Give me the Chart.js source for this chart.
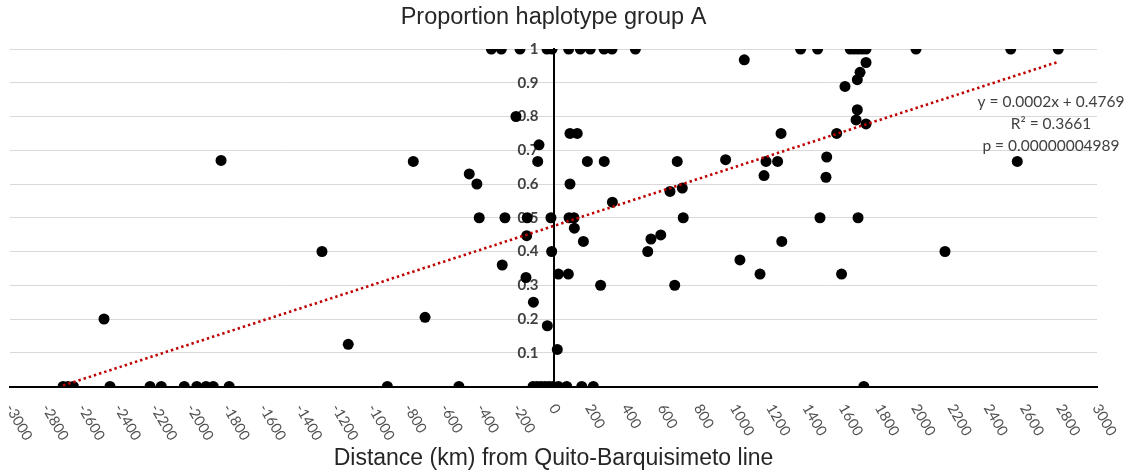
<!DOCTYPE html>
<html><head><meta charset="utf-8">
<script src="https://cdn.jsdelivr.net/npm/chart.js@4.4.0/dist/chart.umd.min.js"></script>
<style>html,body{margin:0;padding:0;background:#fff;}#wrap{width:1131px;height:472px;position:relative;}</style>
</head><body><div id="wrap"><canvas id="c" width="1131" height="472"></canvas></div>
<script>
// ---- text ----
const chartTitle = 'Proportion haplotype group A';
const xAxisTitle = 'Distance (km) from Quito-Barquisimeto line';
const equationLines = ['y = 0.0002x + 0.4769', 'R\u00B2 = 0.3661', 'p = 0.00000004989'];

// ---- axis ranges / ticks ----
const xRange = [-3000, 3000];
const xStep = 200;
const yRange = [0, 1];
const yStep = 0.1;

// ---- data: distance (km) and proportion of haplotype group A ----
const distanceKm = [
  // proportion 0
  -2707, -2680, -2650, -2448, -2227, -2165, -2038, -1969, -1918, -1878, -1790, -917, -522,
  -113, -91, -69, -47, -25, -3, 27, 73, 156, 220, 1713,
  // proportion 1
  -343, -288, -185, -36, -8, 84, 148, 203, 279, 323, 452, 1364, 1458, 1638, 1660, 1682, 1704, 1725, 2001, 2524, 2786,
  // intermediate, west side / near the line
  -2481, -1835, -1278, -1133, -774, -709, -465, -423, -410, -268, -145, -14, 86, 113,
  -283, -207, -80, -87, 91, 131, 187, 280, 91, 325, 115, 165, -148, -10, -152, 27, 82, 260, -111, -34, 21,
  // intermediate, east side
  1053, 1725, 1692, 1677, 1609, 1677, 1670, 1725, 1563, 1256, 1508, 1173, 1237, 1162, 1504, 1471, 1681,
  1260, 2161, 1140, 1590, 2560, 683, 950, 643, 711, 716, 538, 592, 520, 1029, 669
];
const proportionA = [
  0, 0, 0, 0, 0, 0, 0, 0, 0, 0, 0, 0, 0,
  0, 0, 0, 0, 0, 0, 0, 0, 0, 0, 0,
  1, 1, 1, 1, 1, 1, 1, 1, 1, 1, 1, 1, 1, 1, 1, 1, 1, 1, 1, 1, 1,
  0.2, 0.67, 0.4, 0.125, 0.667, 0.205, 0.63, 0.6, 0.5, 0.5, 0.5, 0.5, 0.5, 0.5,
  0.36, 0.8, 0.716, 0.667, 0.75, 0.75, 0.667, 0.667, 0.6, 0.546, 0.469, 0.43, 0.447, 0.4, 0.323, 0.333, 0.333, 0.3, 0.25, 0.18, 0.11,
  0.968, 0.96, 0.931, 0.909, 0.889, 0.82, 0.79, 0.778, 0.75, 0.75, 0.68, 0.667, 0.667, 0.625, 0.62, 0.5, 0.5,
  0.43, 0.4, 0.333, 0.333, 0.667, 0.667, 0.672, 0.578, 0.588, 0.5, 0.437, 0.449, 0.4, 0.375, 0.3
];

// ---- linear trendline endpoints (as drawn) ----
const trendX = [-2707, 2786];
const trendY = [0.003, 0.962];

const fmtY = v => (Math.abs(v) < 1e-9 ? '' : String(Math.round(v * 10) / 10));

// ---- plugin: Excel-style text ----
const textPlugin = {
  id: 'excelText',
  beforeDatasetsDraw(chart) {
    // y tick labels next to the vertical axis (x = 0), below the markers
    const ctx = chart.ctx, xs = chart.scales.x, ys = chart.scales.y;
    const ax = xs.getPixelForValue(0);
    ctx.save();
    ctx.fillStyle = '#404040';
    ctx.font = 'bold 15px Lato, "Open Sans", sans-serif';
    ctx.textAlign = 'right';
    ctx.textBaseline = 'middle';
    ys.ticks.forEach(t => {
      const s = fmtY(t.value);
      if (s) ctx.fillText(s, ax - 15, ys.getPixelForValue(t.value));
    });
    ctx.restore();
  },
  afterDraw(chart) {
    const ctx = chart.ctx, ca = chart.chartArea, xs = chart.scales.x;
    ctx.save();
    // chart title
    ctx.fillStyle = '#262626';
    ctx.font = '23.5px "Liberation Sans", Arial, sans-serif';
    ctx.textAlign = 'center';
    ctx.textBaseline = 'middle';
    ctx.fillText(chartTitle, (ca.left + ca.right) / 2, 18);
    // rotated x tick labels
    ctx.fillStyle = '#505050';
    ctx.font = '14.5px Lato, "Open Sans", sans-serif';
    ctx.textAlign = 'left';
    ctx.textBaseline = 'middle';
    xs.ticks.forEach(t => {
      const px = xs.getPixelForValue(t.value);
      ctx.save();
      ctx.translate(px - 1, xs.top + 19);
      ctx.rotate(60 * Math.PI / 180);
      ctx.fillText(String(t.value), 0, 0);
      ctx.restore();
    });
    // regression equation
    ctx.fillStyle = '#404040';
    ctx.font = '15.5px Lato, "Open Sans", sans-serif';
    ctx.textAlign = 'center';
    equationLines.forEach((s, i) => ctx.fillText(s, 1051, 102 + i * 22));
    ctx.restore();
  }
};

const ctx = document.getElementById('c').getContext('2d');
new Chart(ctx, {
  type: 'scatter',
  data: {
    datasets: [
      {
        type: 'line',
        label: 'Linear trend',
        data: trendX.map((x, i) => ({ x, y: trendY[i] })),
        borderColor: '#c00000',
        borderWidth: 2.6,
        borderDash: [2.4, 3],
        pointRadius: 0,
        fill: false,
        order: 0
      },
      {
        label: 'Proportion haplotype group A',
        data: distanceKm.map((x, i) => ({ x, y: proportionA[i] })),
        backgroundColor: '#000',
        borderColor: '#000',
        borderWidth: 0,
        pointRadius: 5.5,
        order: 1
      }
    ]
  },
  options: {
    responsive: false,
    animation: false,
    devicePixelRatio: 1,
    layout: { padding: { top: 49, left: 10, right: 34, bottom: 0 } },
    plugins: { legend: { display: false }, tooltip: { enabled: false }, title: { display: false } },
    scales: {
      x: {
        type: 'linear',
        min: xRange[0], max: xRange[1],
        position: 'bottom',
        grid: { display: false },
        border: { display: true, color: '#000', width: 2 },
        ticks: { display: false, stepSize: xStep },
        title: {
          display: true, text: xAxisTitle, color: '#262626',
          font: { family: '"Liberation Sans", Arial, sans-serif', size: 23 },
          padding: { top: 0, bottom: 0 }
        },
        afterFit(s) { s.height = 85.5; }
      },
      y: {
        type: 'linear',
        min: yRange[0], max: yRange[1],
        position: { x: 0 },
        grid: { color: '#d9d9d9', lineWidth: 1, drawTicks: false },
        border: { color: '#000', width: 2 },
        ticks: { stepSize: yStep, display: false }
      }
    }
  },
  plugins: [textPlugin]
});
</script></body></html>
